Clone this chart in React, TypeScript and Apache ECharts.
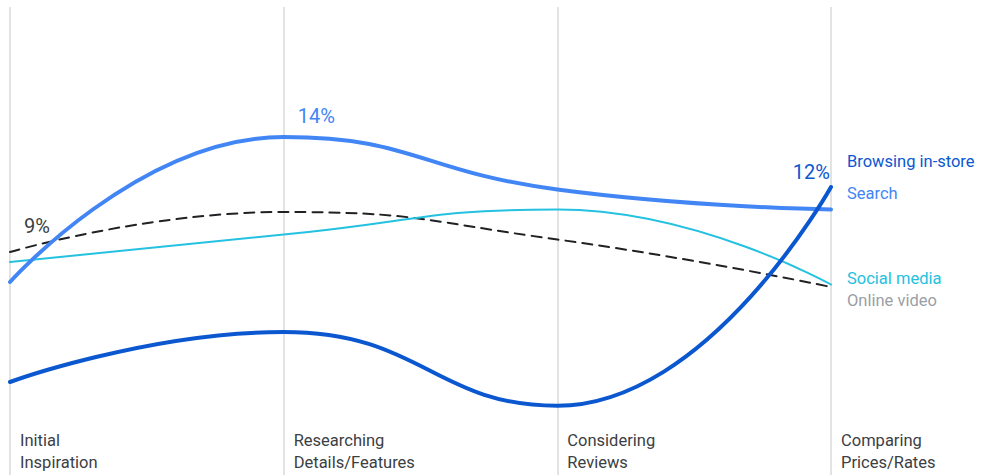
import React, { useEffect, useRef } from "react";
import * as echarts from "echarts";

const categories = [
  "Initial\nInspiration",
  "Researching\nDetails/Features",
  "Considering\nReviews",
  "Comparing\nPrices/Rates",
];

const seriesNames = ["Online video", "Social media", "Search", "Browsing in-store"];
const onlineVideo = [9.4, 11.0, 9.9, 8.0];
const socialMedia = [9.0, 10.1, 11.1, 8.1];
const search = [8.2, 14.0, 11.9, 11.1];
const browsingInStore = [4.2, 6.2, 3.25, 12.0];

// labelled points: [seriesIndex, pointIndex, text]
const pointLabels: [number, number, string][] = [
  [0, 0, "9%"],
  [2, 1, "14%"],
  [3, 3, "12%"],
];

const FONT = "Roboto, 'Noto Sans', sans-serif";

export default function App() {
  const ref = useRef<HTMLDivElement>(null);

  useEffect(() => {
    if (!ref.current) return;
    const chart = echarts.init(ref.current, undefined, { renderer: "svg" });

    const colors = ["#202124", "#24C1E0", "#4285F4", "#0B57D0"];
    const legendColors = ["#9AA0A6", "#24C1E0", "#4285F4", "#0B57D0"];
    const widths = [2, 2, 4, 4];
    const endOffsets = [[0, 13], [0, -6], [0, -16], [0, -26]];
    const labelPos: Record<string, any> = {
      "9%": { position: [14, -36], align: "left", color: "#3C4043" },
      "14%": { position: [14, -31], align: "left", color: "#4285F4" },
      "12%": { position: [-1, -25], align: "right", color: "#0B57D0" },
    };

    const allData = [onlineVideo, socialMedia, search, browsingInStore];

    const series = allData.map((vals, si) => ({
      type: "line",
      name: seriesNames[si],
      smooth: 0.5,
      symbol: "circle",
      symbolSize: 0,
      showSymbol: true,
      showAllSymbol: true,
      z: 2 + si,
      itemStyle: { color: colors[si] },
      lineStyle: {
        color: colors[si],
        width: widths[si],
        type: si === 0 ? [10, 7] : "solid",
        cap: "round",
      },
      label: { show: false },
      data: vals.map((v, pi) => {
        const pl = pointLabels.find((p) => p[0] === si && p[1] === pi);
        if (!pl) return v;
        const cfg = labelPos[pl[2]];
        return {
          value: v,
          label: {
            show: true,
            formatter: pl[2],
            position: cfg.position,
            align: cfg.align,
            verticalAlign: "top",
            color: cfg.color,
            fontSize: 20,
            fontFamily: FONT,
          },
        };
      }),
      endLabel: {
        show: true,
        formatter: seriesNames[si],
        color: legendColors[si],
        fontSize: 16.5,
        fontFamily: FONT,
        distance: 16,
        offset: endOffsets[si],
        align: "left",
      },
      emphasis: { disabled: true },
    }));

    chart.setOption({
      animation: false,
      grid: {
        left: 10,
        right: 157,
        top: 7,
        height: 480,
        containLabel: false,
        outerBoundsMode: "none",
      },
      xAxis: {
        type: "category",
        data: categories,
        boundaryGap: false,
        axisLine: { show: false },
        axisTick: { show: false },
        splitLine: { show: true, lineStyle: { color: "#E3E3E3", width: 2 } },
        axisLabel: {
          inside: true,
          margin: 58,
          align: "left",
          verticalAlign: "top",
          padding: [0, 0, 0, 10],
          color: "#3C4043",
          fontSize: 16.5,
          lineHeight: 22,
          fontFamily: FONT,
          interval: 0,
        },
      },
      yAxis: {
        type: "value",
        min: 0,
        max: 19.2,
        show: false,
        splitLine: { show: false },
      },
      series,
    });

    return () => chart.dispose();
  }, []);

  return (
    <div
      ref={ref}
      style={{ position: "fixed", left: 0, top: 0, width: 988, height: 475, background: "#fff" }}
    />
  );
}
